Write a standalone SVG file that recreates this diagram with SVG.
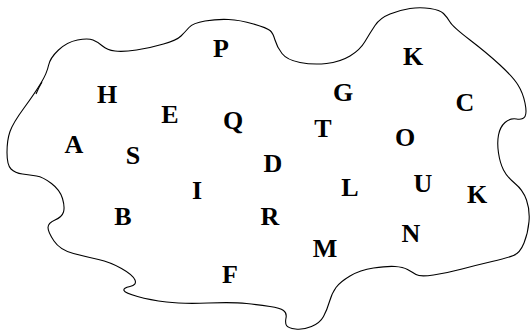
<svg xmlns="http://www.w3.org/2000/svg" width="531" height="333" viewBox="0 0 531 333">
<style>
.outline{fill:none;stroke:#000;stroke-width:1.1}
.lbl{font-family:"Liberation Serif","Times New Roman",serif;font-weight:bold;font-size:26px;fill:#000;text-anchor:middle}
</style>
<rect width="531" height="333" fill="#fff"/>
<g id="region">
<path class="outline" d="M7,152.5 Q7,140 10,131.5 Q13,123 24,108 Q35,93 41,83 Q47,73 48.5,65.5 Q50,58 58.5,50 Q67,42 77.5,40 Q88,38 93,40 Q98,42 102.5,46 Q107,50 115,51 Q123,52 136.5,50 Q150,48 163.5,44 Q177,40 181,36 Q185,32 189,27.5 Q193,23 205,21 Q217,19 228.5,19.5 Q240,20 253.5,24 Q267,28 270,30.5 Q273,33 275,40 Q277,47 282,53.5 Q287,60 300,62.5 Q313,65 326.5,63.5 Q340,62 350,56 Q360,50 365,41.5 Q370,33 375,25.5 Q380,18 390,14 Q400,10 410,8.5 Q420,7 430,8.5 Q440,10 443.5,13.5 Q447,17 450,22 Q453,27 470,40 Q487,53 500,65 Q513,77 518,85 Q523,93 525,103 Q527,113 525,116.5 Q523,120 516.5,119 Q510,118 505,122.5 Q500,127 498.5,135 Q497,143 498.5,153 Q500,163 503.5,170 Q507,177 515,183.5 Q523,190 526.5,200 Q530,210 529,221.5 Q528,233 524,243 Q520,253 513.5,255.5 Q507,258 492,261.5 Q477,265 462,269 Q447,273 433.5,275 Q420,277 416,274.5 Q412,272 407.5,269.5 Q403,267 395,266.5 Q387,266 373.5,268 Q360,270 350,276 Q340,282 336,287.5 Q332,293 329.5,301.5 Q327,310 323.5,316.5 Q320,323 311.5,326.5 Q303,330 295.5,329 Q288,328 286.5,325.5 Q285,323 286,318 Q287,313 283.5,310.5 Q280,308 270,306.5 Q260,305 246.5,303.5 Q233,302 208,303 Q183,304 166.5,302 Q150,300 137.5,296.5 Q125,293 124,290.5 Q123,288 130,286.5 Q137,285 135,280 Q133,275 121.5,268.5 Q110,262 98.5,259.5 Q87,257 73.5,253.5 Q60,250 54,241 Q48,232 48,227.5 Q48,223 55,220 Q62,217 63.5,212 Q65,207 62.5,198.5 Q60,190 51.5,183.5 Q43,177 36.5,176 Q30,175 22.5,174 Q15,173 11,169 Q7,165 7,152.5 Z"/>
<path class="outline" d="M36,94 Q39,87 42,82"/>
</g>
<g id="labels">
<g id="n-P"><text class="lbl" x="221" y="57">P</text></g>
<g id="n-K1"><text class="lbl" x="413" y="65">K</text></g>
<g id="n-H"><text class="lbl" x="107" y="103">H</text></g>
<g id="n-G"><text class="lbl" x="343" y="101">G</text></g>
<g id="n-C"><text class="lbl" x="465" y="111">C</text></g>
<g id="n-E"><text class="lbl" x="170" y="123">E</text></g>
<g id="n-Q"><text class="lbl" x="233" y="129">Q</text></g>
<g id="n-T"><text class="lbl" x="323" y="137">T</text></g>
<g id="n-O"><text class="lbl" x="405" y="146">O</text></g>
<g id="n-A"><text class="lbl" x="74" y="153">A</text></g>
<g id="n-S"><text class="lbl" x="133" y="164">S</text></g>
<g id="n-D"><text class="lbl" x="273" y="172">D</text></g>
<g id="n-L"><text class="lbl" x="350" y="196">L</text></g>
<g id="n-U"><text class="lbl" x="423" y="192">U</text></g>
<g id="n-I"><text class="lbl" x="197" y="199">I</text></g>
<g id="n-K2"><text class="lbl" x="477" y="203">K</text></g>
<g id="n-B"><text class="lbl" x="123" y="225">B</text></g>
<g id="n-R"><text class="lbl" x="270" y="225">R</text></g>
<g id="n-N"><text class="lbl" x="411" y="242">N</text></g>
<g id="n-M"><text class="lbl" x="325" y="257">M</text></g>
<g id="n-F"><text class="lbl" x="230" y="283">F</text></g>
</g>
</svg>
